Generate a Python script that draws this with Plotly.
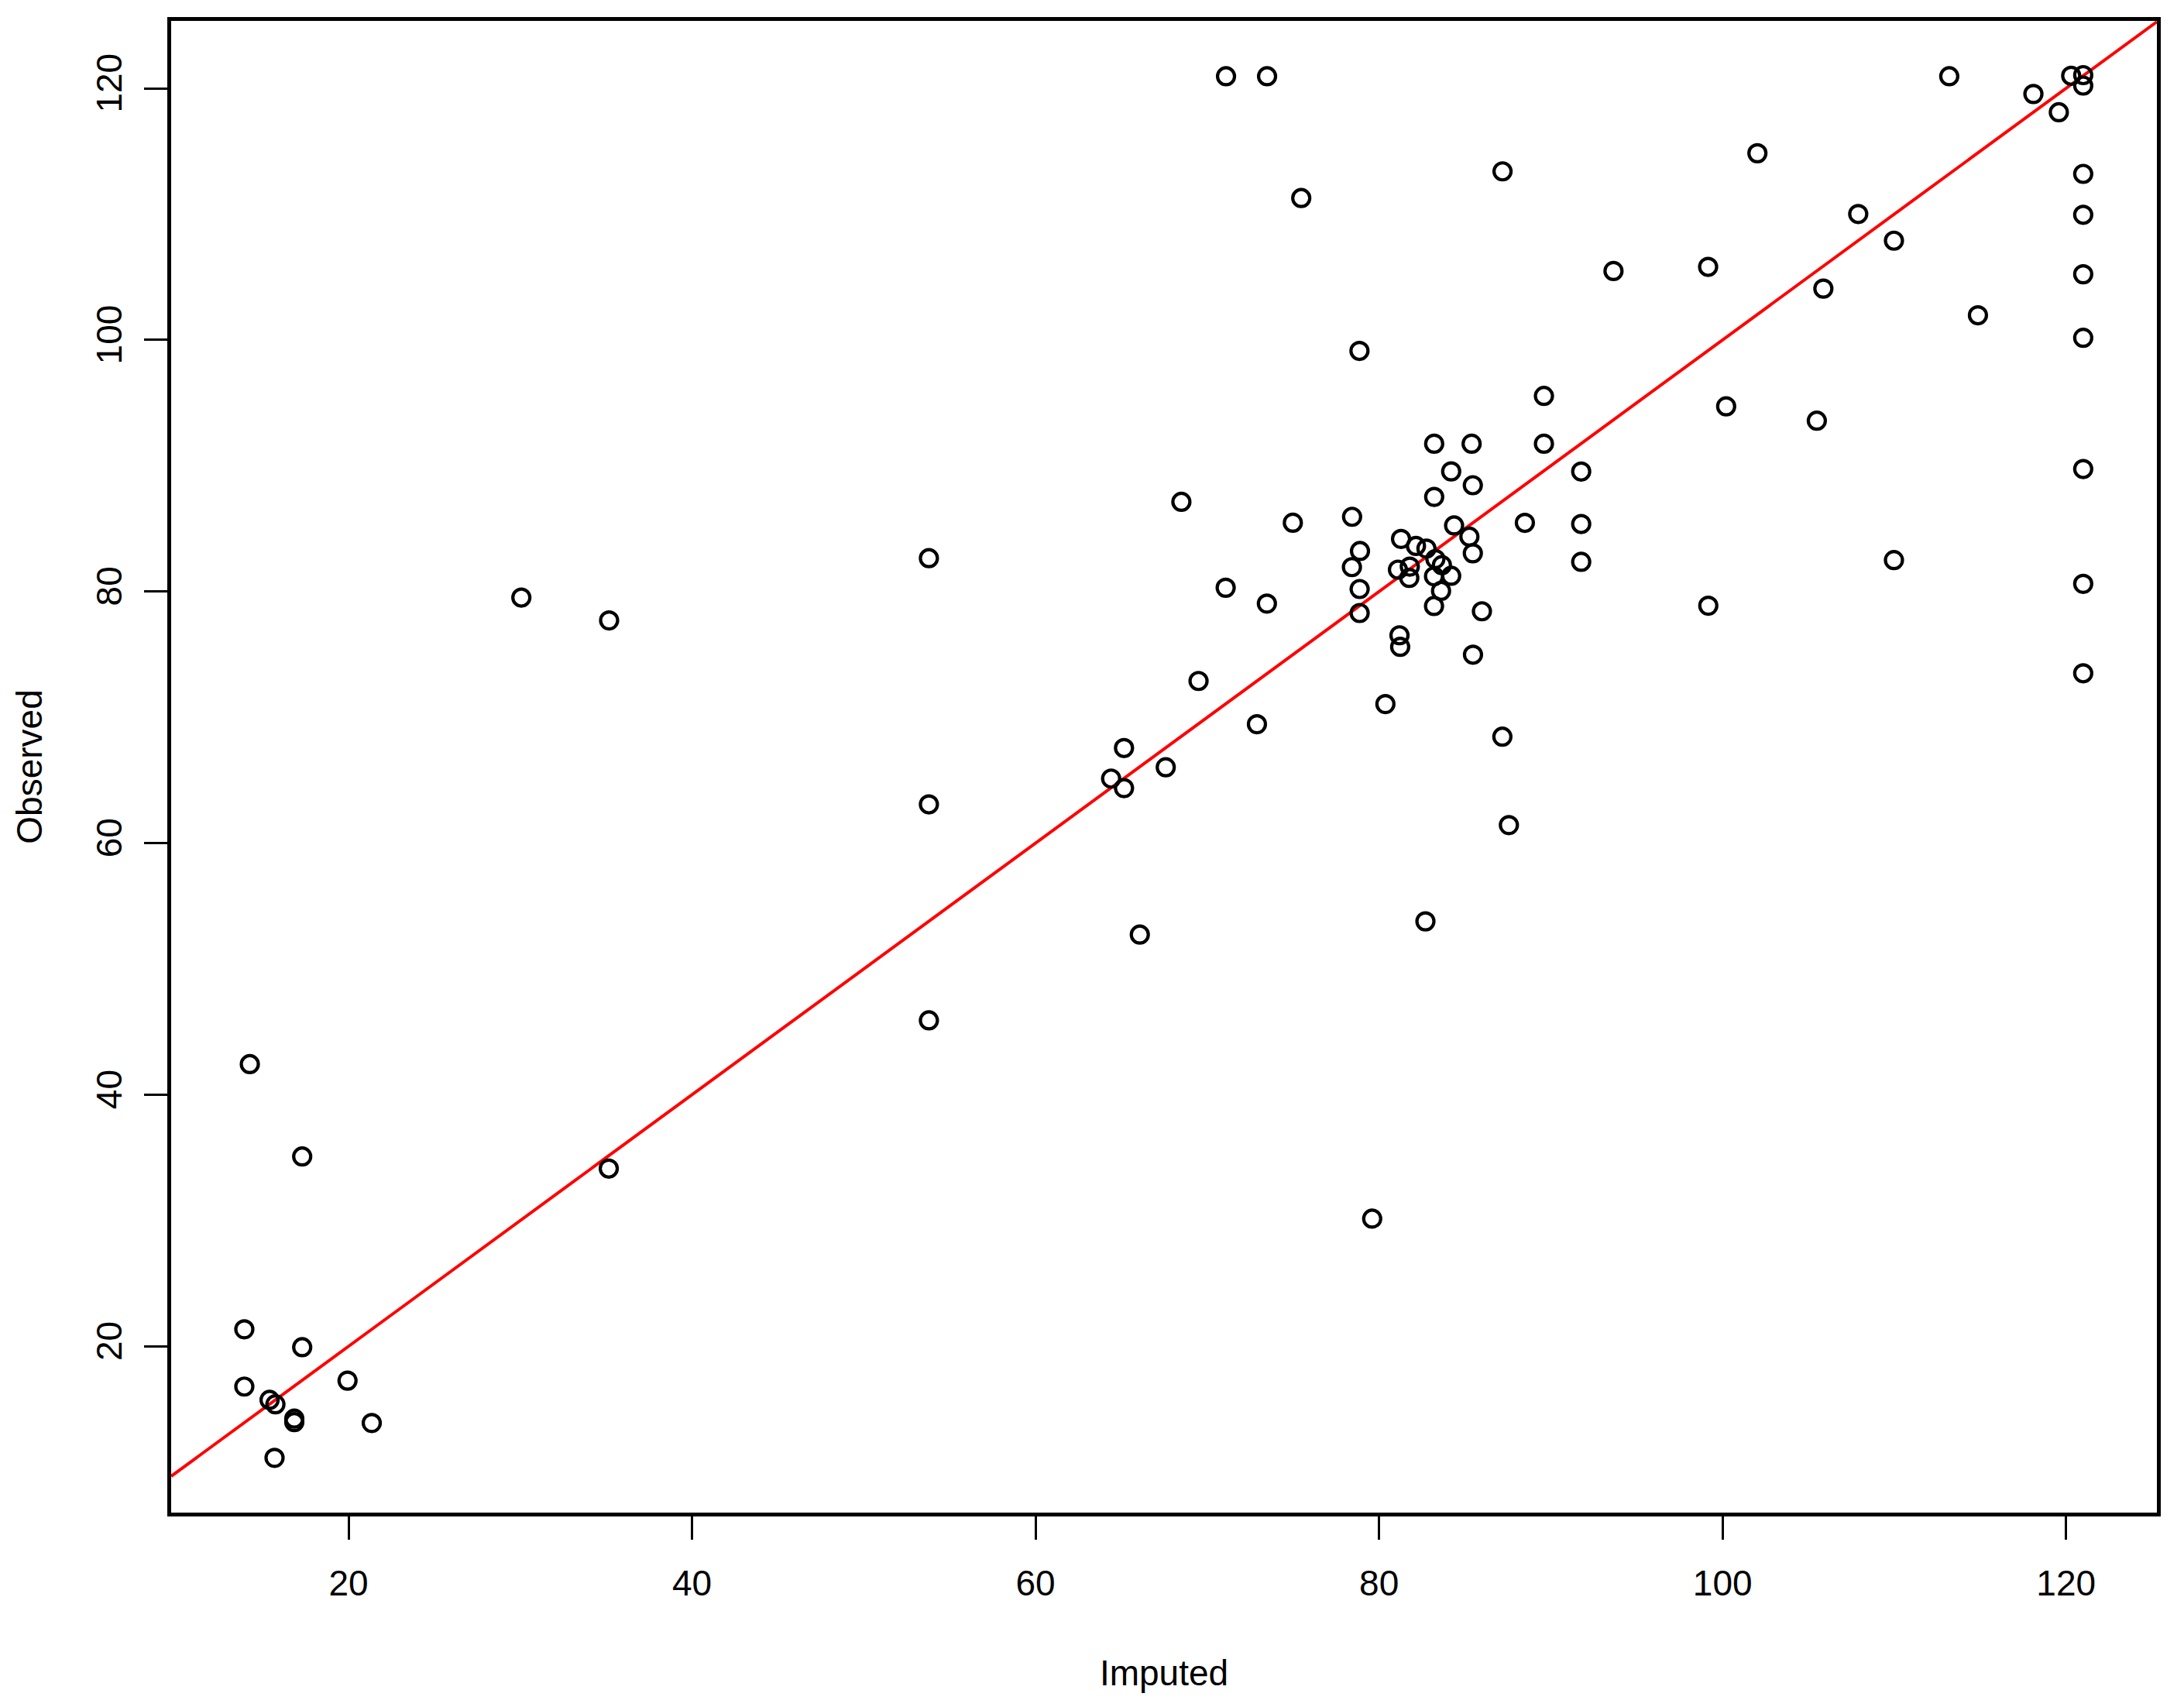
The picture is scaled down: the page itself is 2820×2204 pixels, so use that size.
import plotly.graph_objects as go

# Imputed (x) and Observed (y) values
imputed = [
    14.25, 17.30, 35.15, 13.93, 17.30, 13.93, 19.94, 15.40, 15.74, 16.84, 16.84, 21.35, 15.69,
    30.06, 35.17, 53.79, 53.79, 53.79,
    68.49, 71.07, 73.47, 69.49, 72.89, 65.15, 67.58, 64.40, 65.15, 87.56, 66.07, 82.70, 79.60,
    71.09, 73.48, 75.47, 87.19,
    78.86, 89.60, 100.21, 83.21, 85.39, 89.60, 84.20, 91.77, 85.46, 83.21,
    74.98, 78.43, 84.37, 88.49, 91.77, 81.28, 85.26, 82.15, 82.76, 78.89,
    85.46, 91.77, 78.42, 81.10, 81.79, 81.76, 83.28, 83.66, 83.20, 84.20,
    78.87, 83.61, 83.20, 78.87, 85.99, 81.19, 81.23, 99.17, 85.47, 80.37, 87.18,
    113.20, 118.10, 119.58, 120.30, 121.00, 121.00, 102.03, 121.00, 107.90, 121.00,
    109.98, 93.65, 99.16, 121.00, 105.87, 114.87, 121.00, 105.49, 121.00, 109.98,
    121.00, 121.00,
]
observed = [
    42.43, 35.09, 34.13, 21.35, 19.93, 16.80, 17.27, 15.74, 15.39, 14.25, 13.97, 13.90, 11.13,
    79.52, 77.70, 82.65, 63.08, 45.91,
    87.13, 80.30, 79.04, 72.89, 69.45, 67.56, 66.03, 65.13, 64.37, 61.43, 52.73, 53.78, 30.15,
    120.96, 120.96, 111.28, 113.40,
    99.13, 95.55, 94.72, 91.75, 91.75, 91.75, 89.55, 89.54, 88.45, 87.52,
    85.47, 85.94, 85.25, 85.46, 85.37, 84.18, 84.36, 83.62, 83.41, 83.22,
    83.04, 82.36, 81.94, 81.74, 81.98, 81.08, 82.58, 82.10, 81.21, 81.25,
    80.20, 80.05, 78.85, 78.29, 78.43, 76.52, 75.60, 78.87, 74.98, 71.05, 68.46,
    120.96, 119.55, 118.10, 121.00, 121.05, 120.22, 114.84, 113.20, 110.01, 109.95,
    107.89, 105.48, 105.81, 105.22, 104.08, 101.96, 100.17, 93.58, 89.74, 82.50,
    80.61, 73.50,
]

# reference line (abline with intercept 0, slope 1)
line_intercept = 0.0
line_slope = 1.0

tick_values = [20, 40, 60, 80, 100, 120]
tick_labels = ["20", "40", "60", "80", "100", "120"]

x_range = [9.67, 125.29]
y_range = [6.78, 125.36]

line_x = list(x_range)
line_y = [line_intercept + line_slope * v for v in line_x]

FONT = "Liberation Sans, Arial, Helvetica, sans-serif"
FS = 46

fig = go.Figure()
fig.add_trace(go.Scatter(
    x=line_x, y=line_y, mode="lines",
    line=dict(color="#ff0000", width=4),
    hoverinfo="skip", showlegend=False,
))
fig.add_trace(go.Scatter(
    x=imputed, y=observed, mode="markers",
    marker=dict(symbol="circle-open", size=22, color="black",
                line=dict(width=4.2, color="black")),
    showlegend=False,
))

axis_common = dict(
    showline=True, mirror=True, linewidth=5, linecolor="black",
    ticks="outside", ticklen=30, tickwidth=3.3, tickcolor="black",
    showgrid=False, zeroline=False,
    tickfont=dict(family=FONT, size=FS, color="black"),
    tickmode="array", tickvals=tick_values, ticktext=tick_labels,
    automargin=False,
)

fig.update_layout(
    width=2820, height=2204,
    margin=dict(l=221, r=35, t=27, b=251, pad=0),
    paper_bgcolor="white", plot_bgcolor="white",
    font=dict(family=FONT, size=FS, color="black"),
    xaxis=dict(range=x_range, title=dict(text="Imputed", standoff=76,
               font=dict(family=FONT, size=FS, color="black")),
               ticklabelstandoff=17, **axis_common),
    yaxis=dict(range=y_range, title=dict(text="Observed", standoff=47,
               font=dict(family=FONT, size=FS, color="black")),
               tickangle=-90, ticklabelstandoff=11, **axis_common),
)

fig.write_html(
    "out.html",
    config={"displayModeBar": False},
    post_script="document.body.style.margin='0';document.body.style.overflow='hidden';",
)
